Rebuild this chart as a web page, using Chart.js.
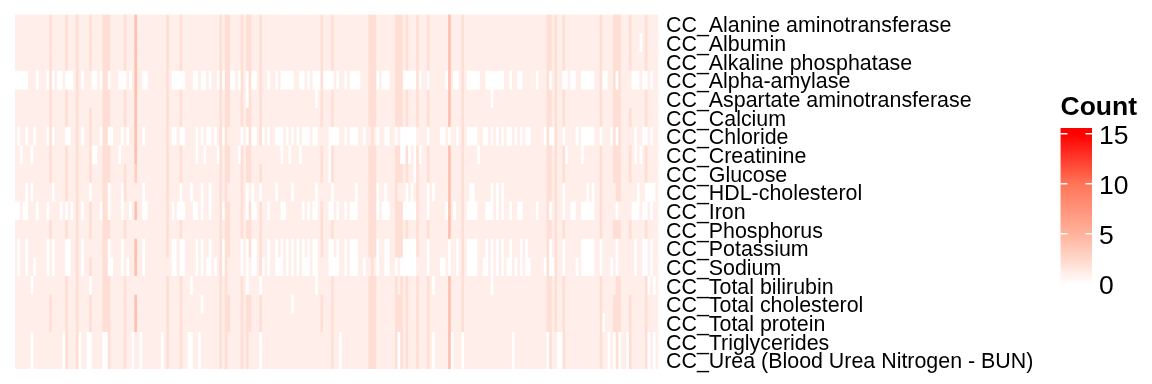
<!DOCTYPE html>
<html>
<head>
<meta charset="utf-8">
<script src="https://cdn.jsdelivr.net/npm/chart.js@4"></script>
<style>
  html, body { margin: 0; padding: 0; background: #fff; }
  canvas { position: absolute; }
</style>
</head>
<body>
<canvas id="heat" width="1152" height="384" style="left:0;top:0"></canvas>
<canvas id="scale" width="112" height="220" style="left:1040px;top:85px"></canvas>
<script>
const tests = [
  "CC_Alanine aminotransferase", "CC_Albumin", "CC_Alkaline phosphatase", "CC_Alpha-amylase",
  "CC_Aspartate aminotransferase", "CC_Calcium", "CC_Chloride", "CC_Creatinine", "CC_Glucose",
  "CC_HDL-cholesterol", "CC_Iron", "CC_Phosphorus", "CC_Potassium", "CC_Sodium",
  "CC_Total bilirubin", "CC_Total cholesterol", "CC_Total protein", "CC_Triglycerides",
  "CC_Urea (Blood Urea Nitrogen - BUN)",
];
const columnCount = 242;

// columns where the count is usually 2 or 4, everything else is 1
const twoCols = [13,19,23,28,33,34,35,41,57,62,77,79,80,85,87,88,92,115,119,133,134,135,143,144,145,147,151,155,168,200,201,203,206,220,225,226,227,231,237];
const fourCols = [45,163];

// per test: columns with a count of 0
const zeroAlanine = [];
const zeroAlbumin = [235];
const zeroAlkaline = [];
const zeroAmylase = [0,1,2,3,4,8,12,14,16,17,19,20,21,25,29,30,32,35,39,40,41,43,48,49,59,60,61,62,63,67,68,70,71,73,76,78,81,82,84,87,89,90,95,98,100,101,102,103,104,107,108,110,112,113,114,116,117,118,119,121,124,126,127,128,129,136,138,139,140,146,147,148,149,150,152,155,162,165,166,170,171,172,173,174,177,178,179,180,181,182,183,186,189,190,196,201,206,207,209,210,213,214,215,216,217,221,222,226,232,233,234,236,237,239];
const zeroAspartate = [87,113,179];
const zeroCalcium = [];
const zeroChloride = [1,4,7,12,14,19,20,25,32,35,36,40,42,48,59,60,62,63,68,70,72,73,75,78,85,87,89,90,93,95,98,99,100,102,104,106,108,109,110,112,113,118,119,120,121,124,126,127,128,131,136,139,140,143,145,146,147,148,149,150,155,160,161,163,166,170,171,172,173,176,177,179,181,183,185,186,188,190,192,193,199,201,202,206,211,213,214,215,216,217,220,224,226,233,236,237,239];
const zeroCreatinine = [2,6,29,30,39,68,71,76,84,100,103,107,118,145,146,148,150,152,174,207,213,233,235];
const zeroGlucose = [118,150];
const zeroHdl = [4,6,14,28,35,40,48,62,66,70,73,87,89,92,98,104,113,119,128,136,139,147,149,155,157,171,172,179,181,183,206,215,217,234,237,238,239,240];
const zeroIron = [0,1,3,4,8,12,17,19,21,25,32,35,40,43,48,49,59,61,62,63,67,68,70,73,78,87,89,90,95,100,101,108,110,112,113,118,119,121,124,126,127,128,136,138,139,140,146,147,148,149,150,155,162,165,170,171,172,173,177,178,179,181,183,186,189,190,196,201,206,209,210,213,214,215,216,217,226,232,233,234,236,237,239];
const zeroPhosphorus = [];
const zeroPotassium = [1,4,12,14,19,20,25,35,40,48,59,60,62,63,68,70,73,78,85,87,89,90,95,98,100,102,104,106,108,110,112,113,118,119,121,124,126,127,128,136,139,140,146,147,148,149,150,155,163,166,170,171,172,173,177,179,181,183,186,190,192,201,206,213,214,215,216,217,220,226,233,236,237,239];
const zeroSodium = [1,4,7,12,14,19,20,25,35,36,40,42,48,59,60,62,63,68,70,72,73,75,78,85,87,89,90,93,95,98,99,100,102,104,106,108,109,110,112,113,118,119,120,121,124,126,127,128,131,136,139,140,143,145,146,147,148,149,150,155,160,161,163,166,170,171,172,173,176,177,179,181,183,185,186,188,190,192,193,199,201,202,206,211,213,214,215,216,217,220,224,226,233,236,237,239];
const zeroBilirubin = [6,28,66,87,92,113,157,179,238,240];
const zeroCholesterol = [70,104];
const zeroProtein = [221];
const zeroTriglycerides = [6,18,24,27,28,33,34,44,47,55,65,66,69,92,122,144,157,164,168,187,200,204,205,223,225,227,230,238,240];
const zeroUrea = [6,18,24,27,28,33,34,44,47,55,65,66,69,92,122,144,157,164,168,187,200,204,205,223,225,227,230,238,240];

// column -> test rows where that raised column drops back to 1
const lowRows = {
  13: [9,10,12,13,14,17,18],
  28: [3,4,12,17,18],
  41: [6,7,10,12,13],
  45: [9,11,14,17,18],
  57: [13],
  80: [6,9,13,14,17,18],
  88: [9,13,14,17,18],
  92: [7],
  115: [6,9,13,14,17,18],
  133: [6,13],
  135: [6,13],
  144: [6,9,13,14],
  145: [9],
  151: [6,13],
  203: [17,18],
  225: [9,10,12,13,14],
  227: [10,12,13],
  231: [3,4,6,9,10,12,13,14],
};
// [test row, column] with a count of 3
const threeCells = [[8,45]];

const countColors = ["#ffffff","#ffeee9","#ffdfd5","#ffcfc2","#ffbfae"];
const legendTicks = [0,5,10,15];
const legendMax = 15.6;
const legendStops = [0,2,5,10,15,15.6];
const legendColors = ["#ffffff","#ffdfd5","#ffb29c","#ff7558","#ff0000","#ff0000"];

const zeroLists = [zeroAlanine,zeroAlbumin,zeroAlkaline,zeroAmylase,zeroAspartate,zeroCalcium,zeroChloride,zeroCreatinine,zeroGlucose,zeroHdl,zeroIron,zeroPhosphorus,zeroPotassium,zeroSodium,zeroBilirubin,zeroCholesterol,zeroProtein,zeroTriglycerides,zeroUrea];

const countFor = (row, col) => {
  if (zeroLists[row].includes(col)) return 0;
  if (threeCells.some(c => c[0] === row && c[1] === col)) return 3;
  if (lowRows[col] && lowRows[col].includes(row)) return 1;
  if (fourCols.includes(col)) return 4;
  if (twoCols.includes(col)) return 2;
  return 1;
};

const columns = [];
for (let c = 0; c < columnCount; c++) columns.push(c);

const datasets = tests.map((name, row) => ({
  label: name,
  data: columns.map(() => 1),
  backgroundColor: columns.map(col => countColors[countFor(row, col)]),
  barPercentage: 1,
  categoryPercentage: 1,
  borderWidth: 0,
}));

const labelFont = { family: "'Liberation Sans', Arial, sans-serif", size: 21.4 };

new Chart(document.getElementById("heat"), {
  type: "bar",
  data: { labels: columns, datasets },
  options: {
    responsive: false,
    animation: false,
    events: [],
    layout: { padding: { left: 15, top: 14.5, bottom: 15, right: 0 } },
    plugins: { legend: { display: false }, tooltip: { enabled: false } },
    scales: {
      x: { stacked: true, display: false },
      y: { stacked: true, display: false, reverse: true, min: 0, max: tests.length },
      rowNames: {
        type: "category",
        labels: tests,
        position: "right",
        offset: true,
        grid: { display: false, drawTicks: false },
        border: { display: false },
        ticks: { color: "#000", font: labelFont, padding: 7.5, labelOffset: 2.7, autoSkip: false, maxRotation: 0 },
        afterFit: s => { s.width = 493.5; s.paddingTop = 0; s.paddingBottom = 0; },
      },
    },
  },
});

new Chart(document.getElementById("scale"), {
  type: "bar",
  data: {
    labels: ["Count"],
    datasets: [{
      data: [[0, legendMax]],
      barPercentage: 1,
      categoryPercentage: 1,
      borderWidth: 0,
      backgroundColor: ctx => {
        const area = ctx.chart.chartArea;
        if (!area) return "#fff";
        const g = ctx.chart.ctx.createLinearGradient(0, area.bottom, 0, area.top);
        legendStops.forEach((v, i) => g.addColorStop(v / legendMax, legendColors[i]));
        return g;
      },
    }],
  },
  options: {
    responsive: false,
    animation: false,
    events: [],
    layout: { padding: { left: 20.5, bottom: 21, top: 0, right: 0 } },
    plugins: {
      legend: { display: false },
      tooltip: { enabled: false },
      title: {
        display: true,
        text: "Count",
        align: "start",
        color: "#000",
        font: { family: labelFont.family, size: 26.5, weight: "bold", lineHeight: 1 },
        padding: { top: 9.5, bottom: 7 },
      },
    },
    scales: {
      x: { display: false },
      y: {
        position: "right",
        min: 0,
        max: legendMax,
        afterBuildTicks: s => { s.ticks = legendTicks.map(value => ({ value })); },
        afterFit: s => { s.width = 60; s.paddingTop = 0; s.paddingBottom = 0; },
        grid: { color: "#fff", lineWidth: 1.5, z: 1, drawTicks: false },
        border: { display: false, dash: [7, 18, 7] },
        ticks: { color: "#000", font: { family: labelFont.family, size: 26.5 }, padding: 7, labelOffset: 2.5 },
      },
    },
  },
});
</script>
</body>
</html>
